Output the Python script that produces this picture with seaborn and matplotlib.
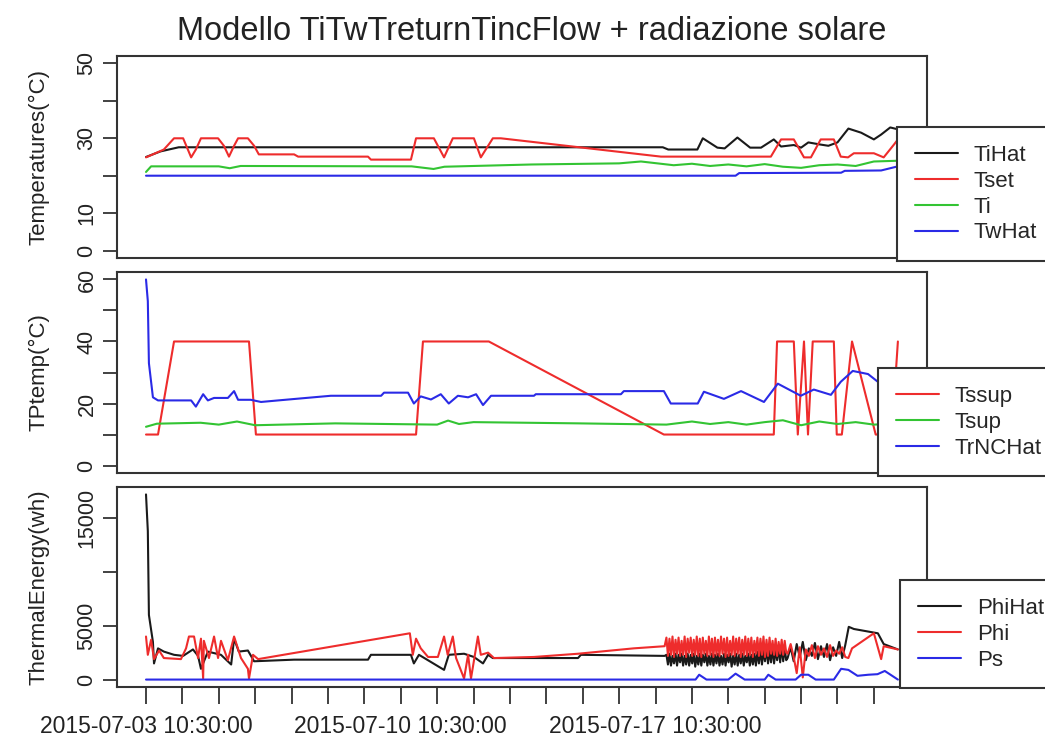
import matplotlib
matplotlib.use("Agg")
import matplotlib.pyplot as plt
import numpy as np
import pandas as pd
import seaborn as sns

T0 = pd.Timestamp("2015-07-03 10:30:00")

# ---------------- panel 1: temperatures (days after T0 / degrees C) ----------------
tihat_days = [0, 0.4, 0.9, 14.2, 14.35, 15.15, 15.3, 15.7, 15.9, 16.25, 16.6, 16.9, 17.25,
              17.45, 17.8, 18.0, 18.2, 18.55, 18.75, 19.0, 19.3, 19.65, 20.0, 20.2, 20.45, 20.66]
tihat_vals = [25, 26.5, 27.6, 27.6, 27.0, 27.0, 30, 27.5, 27.3, 30.2, 27.5, 27.5, 29.7,
              27.8, 28.2, 27.5, 28.9, 28.3, 28, 28.9, 32.6, 31.5, 29.7, 31, 32.9, 32.4]

tset_days = [0, 0.14, 0.49, 0.77, 1.02, 1.15, 1.24, 1.37, 1.51, 1.98, 2.14, 2.28, 2.42, 2.53,
             2.80, 2.97, 3.10, 4.07, 4.18, 6.10, 6.18, 7.28, 7.42, 7.91, 8.19, 8.43, 9.01,
             9.20, 9.53, 9.75, 14.15, 17.17, 17.45, 17.80, 18.08, 18.27, 18.54, 18.90, 19.09,
             19.29, 19.45, 20.0, 20.27, 20.55, 20.66]
tset_vals = [24.9, 25.5, 27, 30, 30, 27, 24.9, 27, 30, 30, 28, 25.1, 28, 30,
             30, 28, 25.7, 25.7, 25.1, 25.1, 24.3, 24.3, 30, 30, 24.9, 30, 30,
             24.9, 30, 30, 25.1, 25.1, 29.7, 29.7, 24.9, 24.9, 29.7, 29.7, 25.1,
             24.9, 26, 26, 24.9, 28.3, 29.7]

ti_days = [0, 0.14, 2.0, 2.3, 2.6, 7.3, 7.9, 8.2, 10.6, 13.0, 13.6, 14.5, 15.0, 15.5, 16.0,
           16.5, 17.0, 17.5, 18.0, 18.5, 19.0, 19.5, 20.0, 20.66]
ti_vals = [21, 22.5, 22.5, 22.0, 22.6, 22.5, 21.8, 22.4, 23, 23.3, 23.8, 22.8, 23.2, 22.6, 23.0,
           22.5, 23.1, 22.4, 22.1, 22.8, 23.0, 22.6, 23.8, 24]

twhat_days = [0, 16.2, 16.3, 19.1, 19.2, 20.2, 20.66]
twhat_vals = [20, 20, 20.7, 20.8, 21.3, 21.4, 22.5]

# ---------------- panel 2: supply temperatures ----------------
tssup_days = [0, 0.33, 0.77, 2.83, 3.02, 7.42, 7.61, 9.42, 14.23, 17.25, 17.34, 17.80, 17.91,
              18.08, 18.19, 18.32, 18.90, 18.98, 19.12, 19.40, 20.05, 20.49, 20.66]
tssup_vals = [10, 10, 40, 40, 10, 10, 40, 40, 10, 10, 40, 40, 10,
              40, 10, 40, 40, 10, 10, 40, 10, 10, 40]

tsup_days = [0, 0.3, 1.5, 2.0, 2.5, 3.0, 5.2, 8.0, 8.3, 8.6, 9.0, 11.9, 14.3, 15.0, 15.5,
             16.0, 16.5, 17.0, 17.5, 18.0, 18.5, 19.0, 19.5, 20.0, 20.66]
tsup_vals = [12.5, 13.5, 13.8, 13.2, 14.2, 13.0, 13.6, 13.2, 14.5, 13.4, 14.0, 13.6, 13.2, 14.2,
             13.4, 14.0, 13.2, 14.0, 14.6, 13.0, 14.2, 13.4, 14.0, 13.2, 13.6]

trnc_days = [0, 0.05, 0.08, 0.19, 0.33, 1.24, 1.37, 1.57, 1.70, 1.87, 2.25, 2.42, 2.53, 2.88,
             3.16, 3.63, 5.08, 6.46, 6.54, 7.20, 7.36, 7.55, 7.83, 8.10, 8.32, 8.57, 8.85,
             9.07, 9.26, 9.48, 10.66, 10.71, 13.05, 13.13, 14.23, 14.42, 15.16, 15.33, 15.88,
             16.35, 16.98, 17.36, 17.99, 18.35, 18.82, 19.09, 19.42, 19.84, 20.11, 20.66]
trnc_vals = [60, 53, 33, 22, 21, 21, 19, 23, 21, 21.8, 21.8, 24, 21.2, 21.2,
             20.5, 21, 22.5, 22.5, 23.5, 23.5, 20, 22.3, 21.3, 23, 20, 22.5, 22,
             23, 19.5, 22.5, 22.5, 23, 23, 24, 24, 20, 20, 23.8, 21.5,
             24, 20.5, 26.4, 22.5, 24.5, 22.8, 27, 30.5, 29.5, 27, 25]

# ---------------- panel 3: thermal energy (Wh) ----------------
phihat_days = [0, 0.05, 0.08, 0.19, 0.22, 0.33, 0.49, 0.77, 1.02, 1.29, 1.43, 1.51, 1.70,
               2.06, 2.34, 2.42, 2.55, 2.80, 2.97, 4.07, 6.10, 6.18, 7.28, 7.36, 7.50, 8.19,
               8.32, 8.74, 9.01, 9.26, 9.40, 9.53, 11.87, 11.95, 14.25]
phihat_vals = [17200, 13800, 6000, 3500, 1500, 2900, 2600, 2300, 2200, 2800, 2200, 1000, 2600,
               2300, 1400, 3800, 2600, 2700, 1700, 1850, 1850, 2300, 2300, 1500, 2300, 900,
               2300, 2400, 2100, 1500, 2300, 2000, 2000, 2300, 2200]
# hourly readings, busy period from day 14.3
phihat_busy = [2300, 1400, 2400, 1300, 2200, 1500, 2400, 1300, 2300, 1600, 2400, 1300, 2200, 1400,
               2400, 1300, 2300, 1500, 2400, 1200, 2200, 1400, 2400, 1300, 2300, 1600, 2400, 1300,
               2200, 1400, 2400, 1300, 2300, 1500, 2400, 1300, 2200, 1400, 2400, 1300, 2300, 1600,
               2400, 1200, 2200, 1400, 2400, 1300, 2300, 1500, 2400, 1300, 2200, 1600, 2400, 1300,
               2300, 1400, 2400, 1300, 2600, 1500, 2800, 1400, 2700, 1700, 2900, 1500, 2700, 1600,
               3000, 1500, 2800, 1800, 3000, 1600, 3100, 1700, 2900, 1800]
# two-hourly readings from day 17.63
phihat_late = [2000, 3000, 1700, 3300, 2100, 3500, 1800, 2900, 2200, 3400, 1900, 3100, 2100,
               3300, 1800, 3000, 2200, 3500, 2000, 3200]
phihat_tail_days = [19.31, 19.45, 20.11, 20.27, 20.66]
phihat_tail_vals = [4900, 4700, 4300, 3300, 2800]

phi_days = [0, 0.05, 0.14, 0.22, 0.36, 0.49, 0.96, 1.10, 1.18, 1.32, 1.43, 1.51, 1.57, 1.59,
            1.73, 1.87, 1.98, 2.06, 2.25, 2.42, 2.61, 2.80, 2.83, 2.94, 3.08, 7.25, 7.33, 7.42,
            7.55, 7.75, 8.02, 8.19, 8.29, 8.43, 8.52, 8.74, 8.85, 8.93, 9.12, 9.20, 9.40, 9.56,
            10.66, 11.87, 13.4, 14.25]
phi_vals = [4000, 2300, 3700, 1900, 2700, 2000, 1900, 2900, 4000, 4000, 2000, 3800, 100, 3600,
            2000, 4000, 2000, 3600, 1800, 4000, 2000, 1000, 100, 2300, 1900, 4300, 2300, 3800,
            2900, 2100, 2100, 4000, 2300, 4000, 2000, 100, 2300, 100, 4000, 2300, 2500, 2000,
            2100, 2400, 2900, 3100]
phi_busy = [3900, 2200, 3800, 2300, 4000, 2100, 3700, 2400, 3900, 2200, 3600, 2300, 4000, 2100,
            3800, 2500, 3900, 2200, 3700, 2300, 4000, 2200, 3800, 2100, 3900, 2400, 3600, 2200,
            4000, 2300, 3800, 2100, 3900, 2300, 3700, 2200, 4000, 2400, 3800, 2100, 3900, 2200,
            3600, 2300, 4000, 2200, 3800, 2400, 3900, 2100, 3700, 2300, 4000, 2200, 3800, 2300,
            3900, 2100, 3600, 2400, 3900, 2200, 3800, 2300, 4000, 2100, 3700, 2200, 3900, 2400,
            3600, 2300, 3800, 2200, 3500, 2400, 3700, 2300, 3600, 2500]
phi_late = [2400, 3300, 2100, 600, 3000, 200, 2800, 2200, 3200, 2000, 3100, 2300, 2900, 2100,
            3200, 2200, 2700, 2400, 3000, 2100]
phi_tail_days = [19.30, 19.40, 20.0, 20.2, 20.27, 20.66]
phi_tail_vals = [2000, 2900, 4300, 1900, 3100, 2800]

ps_days = [0, 15.1, 15.2, 15.4, 16.0, 16.2, 16.45, 17.0, 17.1, 17.3, 17.85, 18.0, 18.2, 18.4,
           18.9, 19.1, 19.3, 19.55, 19.85, 20.1, 20.3, 20.66]
ps_vals = [0, 0, 450, 0, 0, 550, 0, 0, 450, 0, 0, 450, 450, 0,
           0, 1000, 900, 350, 450, 500, 800, 0]

BUSY_START = 14.3
LATE_START = 17.63

BLACK, RED, GREEN, BLUE = "#1a1a1a", "#ee2c2c", "#33c433", "#2a2ae6"


def frame(days, vals):
    return pd.DataFrame({"time": T0 + pd.to_timedelta(days, unit="D"), "value": vals})


def sampled(start_day, vals, hours):
    t = T0 + pd.to_timedelta(start_day, unit="D") + pd.to_timedelta(np.arange(len(vals)) * hours, unit="h")
    return pd.DataFrame({"time": t, "value": vals})


sns.set_theme(style="ticks")
plt.rcParams["font.family"] = ["Liberation Sans", "DejaVu Sans"]
plt.rcParams["axes.edgecolor"] = "#333333"
plt.rcParams["axes.linewidth"] = 1.5

fig = plt.figure(figsize=(10.45, 7.4), dpi=100)
L, W = 117 / 1045, 810 / 1045
ax1 = fig.add_axes([L, 1 - 258 / 740, W, 202 / 740])
ax2 = fig.add_axes([L, 1 - 473 / 740, W, 201 / 740])
ax3 = fig.add_axes([L, 1 - 687 / 740, W, 200 / 740])

lw = 1.5
kw = dict(x="time", y="value", estimator=None, sort=False, linewidth=lw)

# panel 1
sns.lineplot(data=frame(tihat_days, tihat_vals), color=BLACK, label="TiHat", ax=ax1, **kw)
sns.lineplot(data=frame(tset_days, tset_vals), color=RED, label="Tset", ax=ax1, **kw)
sns.lineplot(data=frame(ti_days, ti_vals), color=GREEN, label="Ti", ax=ax1, **kw)
sns.lineplot(data=frame(twhat_days, twhat_vals), color=BLUE, label="TwHat", ax=ax1, **kw)

# panel 2
sns.lineplot(data=frame(tssup_days, tssup_vals), color=RED, label="Tssup", ax=ax2, **kw)
sns.lineplot(data=frame(tsup_days, tsup_vals), color=GREEN, label="Tsup", ax=ax2, **kw)
sns.lineplot(data=frame(trnc_days, trnc_vals), color=BLUE, label="TrNCHat", ax=ax2, **kw)

# panel 3
phihat = pd.concat([frame(phihat_days, phihat_vals), sampled(BUSY_START, phihat_busy, 1),
                    sampled(LATE_START, phihat_late, 2), frame(phihat_tail_days, phihat_tail_vals)])
phi = pd.concat([frame(phi_days, phi_vals), sampled(BUSY_START, phi_busy, 1),
                 sampled(LATE_START, phi_late, 2), frame(phi_tail_days, phi_tail_vals)])
sns.lineplot(data=phihat, color=BLACK, label="PhiHat", ax=ax3, **kw)
sns.lineplot(data=phi, color=RED, label="Phi", ax=ax3, **kw)
sns.lineplot(data=frame(ps_days, ps_vals), color=BLUE, label="Ps", ax=ax3, **kw)

x0 = T0 - pd.Timedelta(days=0.797)
x1 = T0 + pd.Timedelta(days=21.46)
tick_days = list(range(21))
tick_pos = [T0 + pd.Timedelta(days=d) for d in tick_days]
tick_lab = [p.strftime("%Y-%m-%d %H:%M:%S") if d in (0, 7, 14) else "" for d, p in zip(tick_days, tick_pos)]

ylabels = ["Temperatures(°C)", "TPtemp(°C)", "ThermalEnergy(wh)"]
ylims = [(-2, 52), (-2.4, 62.4), (-690, 17890)]
yticks = [[0, 10, 20, 30, 40, 50], [0, 10, 20, 30, 40, 50, 60], [0, 5000, 10000, 15000]]
ytlabs = [["0", "10", "", "30", "", "50"], ["0", "", "20", "", "40", "", "60"],
          ["0", "5000", "", "15000"]]
legend_xy = [(897 / 1045, 1 - 127 / 740), (878 / 1045, 1 - 368 / 740), (900 / 1045, 1 - 580 / 740)]

for ax, yl, lim, yt, ytl, lxy in zip([ax1, ax2, ax3], ylabels, ylims, yticks, ytlabs, legend_xy):
    ax.set_xlim(x0, x1)
    ax.set_ylim(*lim)
    ax.set_yticks(yt)
    ax.set_yticklabels(ytl, rotation=90, va="center", fontsize=15.5, color="#222222")
    ax.tick_params(axis="y", length=10, width=1.3, pad=4, color="#333333")
    ax.set_ylabel(yl, fontsize=16, color="#222222")
    ax.yaxis.set_label_coords(-0.083, 0.5)
    ax.set_xlabel("")
    ax.set_facecolor("white")
    ax.legend(loc="upper left", bbox_to_anchor=lxy, bbox_transform=fig.transFigure,
              borderaxespad=0, fontsize=16, frameon=True, fancybox=False, edgecolor="#333333",
              framealpha=1, handlelength=1.95, handletextpad=0.7, labelspacing=0.22,
              borderpad=0.8).get_frame().set_linewidth(1.5)
    for spine in ax.spines.values():
        spine.set_visible(True)

for ax in (ax1, ax2):
    ax.set_xticks([])

ax3.set_xticks(tick_pos)
ax3.set_xticklabels(tick_lab, fontsize=16.5, color="#222222")
ax3.tick_params(axis="x", length=12, width=1.3, pad=8, color="#333333")

fig.text(0.509, 1 - 31 / 740, "Modello TiTwTreturnTincFlow + radiazione solare",
         ha="center", va="center", fontsize=23.5, color="#222222")

fig.savefig("out.png", dpi=100, facecolor="white")
